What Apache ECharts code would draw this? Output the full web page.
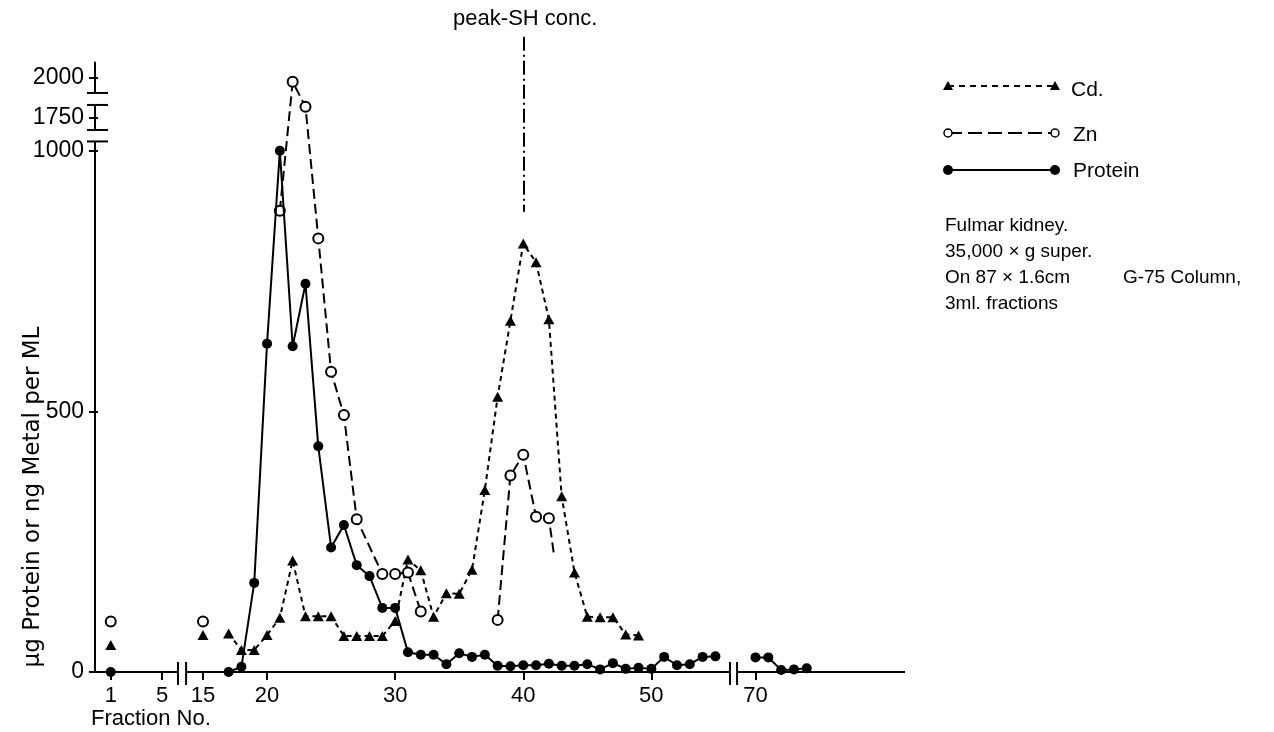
<!DOCTYPE html>
<html>
<head>
<meta charset="utf-8">
<title>Fulmar kidney - G-75 column fractions</title>
<script src="https://cdn.jsdelivr.net/npm/echarts@6/dist/echarts.min.js"></script>
<style>
    html, body { margin: 0; padding: 0; background: #fff; }
    #main { width: 1274px; height: 732px; }
</style>
</head>
<body>
<div id="main"></div>
<script>
// readings: ug protein or ng metal per ml, by fraction number
var cdFractions = [1, 15, 17, 18, 19, 20, 21, 22, 23, 24, 25, 26, 27, 28, 29, 30,
    31, 32, 33, 34, 35, 36, 37, 38, 39, 40, 41, 42, 43, 44, 45, 46, 47, 48, 49];
var cdValues = [52, 71, 74, 42, 42, 71, 104, 214, 107, 107, 107, 69, 69, 69, 69, 98,
    216, 195, 106, 151, 150, 196, 349, 528, 674, 822, 786, 677, 337, 191, 106, 105, 105, 72, 70];
var cdSegmentStarts = [15, 17];

var znFractions = [1, 15, 21, 22, 23, 24, 25, 26, 27, 29, 30, 31, 32, 38, 39, 40, 41, 42];
var znValues = [97, 97, 885, 1975, 1820, 832, 576, 493, 293, 188, 188, 191, 116, 100, 377, 417, 298, 295];
var znSegmentStarts = [15, 21, 38];
var znOpenEnd = [42.4, 225];   // dashed line stops here, no marker

var proteinFractions = [1, 17, 18, 19, 20, 21, 22, 23, 24, 25, 26, 27, 28, 29, 30,
    31, 32, 33, 34, 35, 36, 37, 38, 39, 40, 41, 42, 43, 44, 45, 46, 47, 48, 49, 50,
    51, 52, 53, 54, 55, 70, 71, 72, 73, 74];
var proteinValues = [0, 0, 10, 171, 630, 1000, 625, 745, 433, 239, 282, 205, 184, 123, 123,
    38, 33, 33, 15, 36, 29, 33, 12, 11, 13, 13, 16, 12, 12, 15, 5, 17, 6, 8, 6,
    29, 13, 15, 29, 30, 28, 28, 4, 5, 7];
var proteinSegmentStarts = [17, 70];

var xTicks = [1, 5, 15, 20, 30, 40, 50, 70];
var yTicks = [0, 500, 1000, 1750, 2000];
var peakFraction = 40;

var FONT = '"Liberation Sans", Arial, Helvetica, sans-serif';

// broken axes: fractions 6-14 and 56-69 cut out, y jumps from 1000 to 1750
function xPos(f) {
    if (f < 10) return f;
    if (f < 62) return f - 6.8;
    return f - 18.67;
}
function xBack(d) {
    if (d < 6.6) return d;
    if (d < 50) return d + 6.8;
    return d + 18.67;
}
function yPos(v) {
    if (v <= 1000) return v;
    return 1063 + (v - 1750) * 0.308;
}
function yBack(d) {
    if (d <= 1001) return d;
    return 1750 + (d - 1063) / 0.308;
}

function build(fr, vals, starts) {
    var out = [];
    for (var i = 0; i < fr.length; i++) {
        if (i > 0 && starts.indexOf(fr[i]) >= 0) out.push([xPos(fr[i]), '-']);
        out.push([xPos(fr[i]), yPos(vals[i])]);
    }
    return out;
}

var X_MIN = -0.23, X_MAX = 63.0, Y_MAX = 1251;

var myChart = echarts.init(document.getElementById('main'));

var znData = build(znFractions, znValues, znSegmentStarts);
znData.push({ value: [xPos(znOpenEnd[0]), yPos(znOpenEnd[1])], symbol: 'none' });

var option = {
    animation: false,
    textStyle: { fontFamily: FONT, color: '#000' },
    grid: { left: 95, right: 369, top: 20, bottom: 60 },
    xAxis: {
        type: 'value',
        min: X_MIN,
        max: X_MAX,
        axisLine: { show: false },
        axisTick: {
            customValues: xTicks.map(xPos),
            length: 8,
            lineStyle: { color: '#000', width: 2 }
        },
        axisLabel: {
            customValues: xTicks.map(xPos),
            formatter: function (v) { return String(Math.round(xBack(v))); },
            color: '#000',
            fontFamily: FONT,
            fontSize: 22,
            margin: 13
        },
        splitLine: { show: false }
    },
    yAxis: {
        type: 'value',
        min: 0,
        max: Y_MAX,
        axisLine: { show: false },
        axisTick: {
            show: true,
            customValues: yTicks.map(yPos),
            length: 9,
            lineStyle: { color: '#000', width: 2 }
        },
        axisLabel: {
            customValues: yTicks.map(yPos),
            formatter: function (v) { return String(Math.round(yBack(v))); },
            color: '#000',
            fontFamily: FONT,
            fontSize: 23,
            margin: 11
        },
        splitLine: { show: false }
    },
    series: [
        {
            name: 'Cd.',
            type: 'line',
            data: build(cdFractions, cdValues, cdSegmentStarts),
            symbol: 'triangle',
            symbolSize: [11, 10],
            itemStyle: { color: '#000' },
            lineStyle: { color: '#000', width: 2, type: [5, 4] },
            emphasis: { disabled: true },
            markLine: {
                silent: true,
                symbol: ['none', 'none'],
                label: { show: false },
                lineStyle: { color: '#000', width: 2, type: [14, 4, 2, 4] },
                data: [[{ coord: [xPos(peakFraction), 1219] }, { coord: [xPos(peakFraction), 883] }]]
            },
            z: 2
        },
        {
            name: 'Zn',
            type: 'line',
            data: znData,
            symbol: 'circle',
            symbolSize: 10,
            itemStyle: { color: '#fff', borderColor: '#000', borderWidth: 2 },
            lineStyle: { color: '#000', width: 2, type: [10, 5] },
            emphasis: { disabled: true },
            z: 3
        },
        {
            name: 'Protein',
            type: 'line',
            data: build(proteinFractions, proteinValues, proteinSegmentStarts),
            symbol: 'circle',
            symbolSize: 10,
            itemStyle: { color: '#000' },
            lineStyle: { color: '#000', width: 2 },
            emphasis: { disabled: true },
            z: 4
        }
    ]
};

myChart.setOption(option);

// axis lines with break marks, legend and notes
function px(p) {
    return myChart.convertToPixel({ gridIndex: 0 }, p);
}

function buildGraphic() {
    var g = [];
    var line = function (x1, y1, x2, y2, dash) {
        g.push({
            type: 'line',
            shape: { x1: x1, y1: y1, x2: x2, y2: y2 },
            style: { stroke: '#000', lineWidth: 2, lineDash: dash || null }
        });
    };
    var text = function (s, x, y, size, align, rot, family) {
        g.push({
            type: 'text',
            x: x, y: y,
            rotation: rot || 0,
            style: {
                text: s, fill: '#000', font: size + 'px ' + (family || FONT),
                textAlign: align || 'left', textVerticalAlign: 'middle'
            }
        });
    };

    var origin = px([X_MIN, 0]);
    var ax = origin[0], ay = origin[1];

    // y axis, broken between 1000 and 1750
    var yPieces = [[0, 1018], [1040, 1088], [1111, 1171]];
    yPieces.forEach(function (p, i) {
        var a = px([X_MIN, p[0]])[1], b = px([X_MIN, p[1]])[1];
        line(ax, a, ax, b);
        if (i > 0) line(ax - 8, a, ax + 13, a);
        if (i < yPieces.length - 1) line(ax - 8, b, ax + 13, b);
    });

    // x axis with || breaks
    var xPieces = [[X_MIN, 6.25], [6.88, 49.34], [49.89, X_MAX]];
    xPieces.forEach(function (p, i) {
        var a = px([p[0], 0])[0], b = px([p[1], 0])[0];
        line(a, ay, b, ay);
        if (i > 0) line(a, ay - 10, a, ay + 13);
        if (i < xPieces.length - 1) line(b, ay - 10, b, ay + 13);
    });

    // legend
    var lx1 = 948, lx2 = 1055;
    line(lx1, 86, lx2, 86, [6, 5]);
    [lx1, lx2].forEach(function (x) {
        g.push({ type: 'polygon', shape: { points: [[x, 81], [x + 5, 90], [x - 5, 90]] }, style: { fill: '#000' } });
    });
    text('Cd.', 1071, 90, 21);

    line(lx1, 133, lx2, 133, [14, 6]);
    [lx1, lx2].forEach(function (x) {
        g.push({ type: 'circle', shape: { cx: x, cy: 133, r: 4 }, style: { fill: '#fff', stroke: '#000', lineWidth: 1.5 }, z: 10 });
    });
    text('Zn', 1073, 135, 21);

    line(lx1, 170, lx2, 170);
    [lx1, lx2].forEach(function (x) {
        g.push({ type: 'circle', shape: { cx: x, cy: 170, r: 5 }, style: { fill: '#000' } });
    });
    text('Protein', 1073, 171, 21);

    // notes
    text('Fulmar kidney.', 945, 226, 19);
    text('35,000 \u00d7 g super.', 945, 252, 19);
    text('On 87 \u00d7 1.6cm          G-75 Column,', 945, 278, 19);
    text('3ml. fractions', 945, 304, 19);

    text('peak-SH conc.', px([xPos(peakFraction), 0])[0] + 2, 19, 22, 'center');
    text('Fraction No.', 91, 719, 22);
    text('\u00b5g Protein or ng Metal per ML', 33, 497, 23, 'center', Math.PI / 2, '"DejaVu Sans", sans-serif');

    return g;
}

myChart.setOption({ graphic: buildGraphic() });

window.addEventListener('resize', function () {
    myChart.resize();
});
</script>
</body>
</html>
